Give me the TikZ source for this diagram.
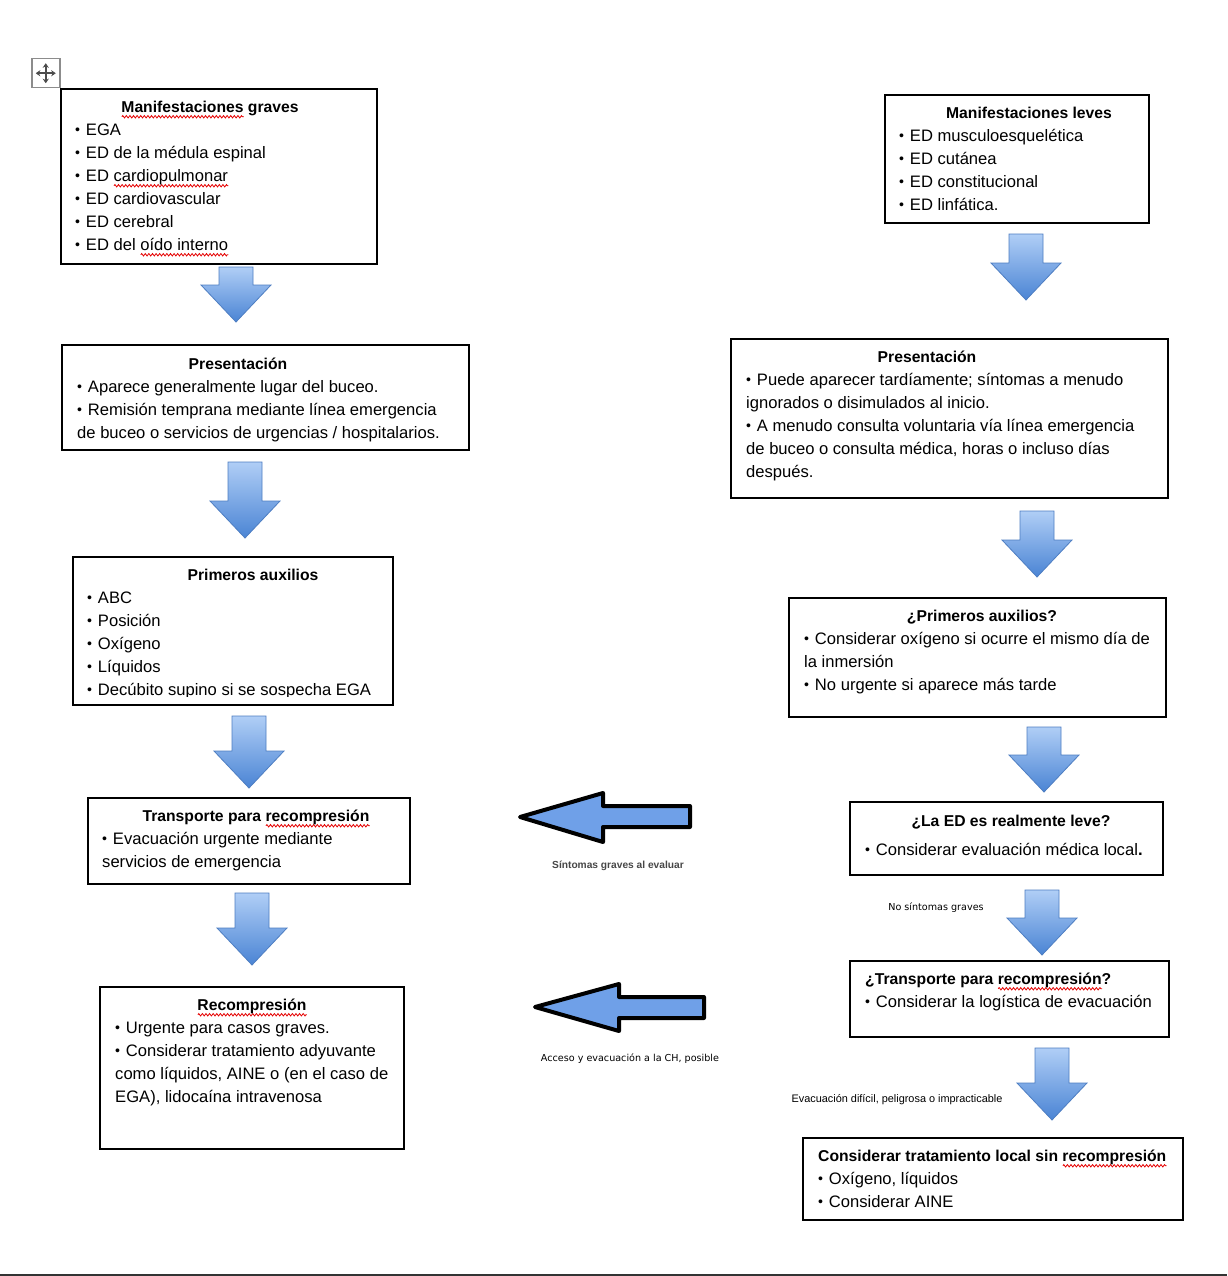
\documentclass[tikz,border=0pt]{standalone}
\usepackage{fontspec}
\setmainfont{Liberation Sans}
\newfontfamily\smallfont{DejaVu Sans}
\usepackage{graphicx}
\usetikzlibrary{arrows.meta,decorations.pathmorphing}
\newsavebox\sqbox
\newlength\sqlen
\newcommand\sqw[1]{\sbox\sqbox{#1}\setlength\sqlen{\wd\sqbox}\rlap{\tikz[baseline=0pt,x=1pt,y=1pt]{\draw[red!90!black, line width=0.8pt, decorate, decoration={zigzag, segment length=3.6pt, amplitude=1.2pt}] (0,-4) -- (\sqlen,-4);}}\usebox\sqbox}
\newcommand\bul{\raisebox{0.1ex}{\scalebox{0.85}{•}}\hspace{0.35em}}
\definecolor{arrtop}{HTML}{B0CEF6}
\definecolor{arrbot}{HTML}{4A84D4}
\definecolor{arredge}{HTML}{4E7EC2}
\definecolor{leftfill}{HTML}{6FA0E8}
\newcommand\blockdown[3]{%
  \path[shade, top color=arrtop, bottom color=arrbot, draw=arredge, line width=0.8pt, line join=miter]
  (#1-17,#2) -- (#1+17,#2) -- (#1+17,#3-37) -- (#1+35,#3-37) -- (#1,#3) -- (#1-35,#3-37) -- (#1-17,#3-37) -- cycle;}
\tikzset{
  box/.style={draw=black, line width=1.8pt, anchor=north west, inner sep=0pt},
  ttl/.style={inner sep=0pt, font=\fontsize{15.7}{19}\selectfont\bfseries, text height=11.5pt, text depth=0pt},
  ln/.style={anchor=west, inner sep=0pt, font=\fontsize{16.6}{19}\selectfont, text height=11.5pt, text depth=0pt},
  lbl/.style={inner sep=0pt, text height=7pt, text depth=0pt},
  leftarrow/.style={draw=black, line width=4pt, fill=leftfill, line join=round}
}
\begin{document}
\begin{tikzpicture}[x=1pt,y=-1pt]
\useasboundingbox (0,0) rectangle (1227,1276);
\fill[white] (0,0) rectangle (1227,1276);

% move handle icon
\node[draw=black!45, line width=1.5pt, minimum width=28pt, minimum height=29pt, inner sep=0pt, anchor=north west] (handle) at (31,58) {};
\draw[{Stealth[length=4.5pt,width=6pt]}-{Stealth[length=4.5pt,width=6pt]}, line width=1.6pt, black!70] (handle.center) ++(-10,0) -- ++(20,0);
\draw[{Stealth[length=4.5pt,width=6pt]}-{Stealth[length=4.5pt,width=6pt]}, line width=1.6pt, black!70] (handle.center) ++(0,-10) -- ++(0,20);

% ---------- left column ----------
\node[ttl] (l1t) at (210,107) {\sqw{Manifestaciones} graves};
\node[ln] (l1a) at (75,130) {\bul EGA};
\node[ln] (l1b) at (75,153) {\bul ED de la médula espinal};
\node[ln] (l1c) at (75,176) {\bul ED \sqw{cardiopulmonar}};
\node[ln] (l1d) at (75,199) {\bul ED cardiovascular};
\node[ln] (l1e) at (75,222) {\bul ED cerebral};
\node[ln] (l1f) at (75,245) {\bul ED del \sqw{oído interno}};
\node[box, minimum width=316pt, minimum height=175pt] (L1) at (60,88) {};

\blockdown{236}{267}{322}

\node[ttl] (l2t) at (238,364) {Presentación};
\node[ln] (l2a) at (77,387) {\bul Aparece generalmente lugar del buceo.};
\node[ln] (l2b) at (77,410) {\bul Remisión temprana mediante línea emergencia};
\node[ln] (l2c) at (77,433) {de buceo o servicios de urgencias / hospitalarios.};
\node[box, minimum width=407pt, minimum height=105pt] (L2) at (61,344) {};

\blockdown{245}{462}{538}

\node[ttl] (l3t) at (253,575) {Primeros auxilios};
\node[ln] (l3a) at (87,598) {\bul ABC};
\node[ln] (l3b) at (87,621) {\bul Posición};
\node[ln] (l3c) at (87,644) {\bul Oxígeno};
\node[ln] (l3d) at (87,667) {\bul Líquidos};
\node[ln] (l3e) at (87,690) {\bul Decúbito supino si se sospecha EGA};
\fill[white] (73,697) rectangle (391,704);
\node[box, minimum width=320pt, minimum height=148pt] (L3) at (72,556) {};

\blockdown{249}{716}{788}

\node[ttl] (l4t) at (256,816) {Transporte para \sqw{recompresión}};
\node[ln] (l4a) at (102,839) {\bul Evacuación urgente mediante};
\node[ln] (l4b) at (102,862) {servicios de emergencia};
\node[box, minimum width=322pt, minimum height=86pt] (L4) at (87,797) {};

\blockdown{252}{893}{965}

\node[ttl] (l5t) at (252,1005) {\sqw{Recompresión}};
\node[ln] (l5a) at (115,1028) {\bul Urgente para casos graves.};
\node[ln] (l5b) at (115,1051) {\bul Considerar tratamiento adyuvante};
\node[ln] (l5c) at (115,1074) {como líquidos, AINE o (en el caso de};
\node[ln] (l5d) at (115,1097) {EGA), lidocaína intravenosa};
\node[box, minimum width=304pt, minimum height=162pt] (L5) at (99,986) {};

% ---------- right column ----------
\node[ttl] (r1t) at (1029,113) {Manifestaciones leves};
\node[ln] (r1a) at (899,136) {\bul ED musculoesquelética};
\node[ln] (r1b) at (899,159) {\bul ED cutánea};
\node[ln] (r1c) at (899,182) {\bul ED constitucional};
\node[ln] (r1d) at (899,205) {\bul ED linfática.};
\node[box, minimum width=264pt, minimum height=128pt] (R1) at (884,94) {};

\blockdown{1026}{234}{300}

\node[ttl] (r2t) at (927,357) {Presentación};
\node[ln] (r2a) at (746,380) {\bul Puede aparecer tardíamente; síntomas a menudo};
\node[ln] (r2b) at (746,403) {ignorados o disimulados al inicio.};
\node[ln] (r2c) at (746,426) {\bul A menudo consulta voluntaria vía línea emergencia};
\node[ln] (r2d) at (746,449) {de buceo o consulta médica, horas o incluso días};
\node[ln] (r2e) at (746,472) {después.};
\node[box, minimum width=437pt, minimum height=159pt] (R2) at (730,338) {};

\blockdown{1037}{511}{577}

\node[ttl] (r3t) at (982,616) {¿Primeros auxilios?};
\node[ln] (r3a) at (804,639) {\bul Considerar oxígeno si ocurre el mismo día de};
\node[ln] (r3b) at (804,662) {la inmersión};
\node[ln] (r3c) at (804,685) {\bul No urgente si aparece más tarde};
\node[box, minimum width=377pt, minimum height=119pt] (R3) at (788,597) {};

\blockdown{1044}{727}{792}

\node[ttl] (r4t) at (1011,821) {¿La ED es realmente leve?};
\node[ln] (r4a) at (865,850) {\bul Considerar evaluación médica local\textbf{.}};
\node[box, minimum width=313pt, minimum height=73pt] (R4) at (849,801) {};

\node[lbl, font=\smallfont\fontsize{9.6}{11}\selectfont] (nosint) at (936,907) {No síntomas graves};
\blockdown{1042}{890}{955}

\node[ttl, anchor=west] (r5t) at (865,979) {¿Transporte para \sqw{recompresión}?};
\node[ln] (r5a) at (865,1002) {\bul Considerar la logística de evacuación};
\node[box, minimum width=319pt, minimum height=76pt] (R5) at (849,960) {};

\node[lbl, font=\fontsize{10.9}{12}\selectfont] (evac) at (897,1099) {Evacuación difícil, peligrosa o impracticable};
\blockdown{1052}{1048}{1120}

\node[ttl, anchor=west] (r6t) at (818,1156) {Considerar tratamiento local sin \sqw{recompresión}};
\node[ln] (r6a) at (818,1179) {\bul Oxígeno, líquidos};
\node[ln] (r6b) at (818,1202) {\bul Considerar AINE};
\node[box, minimum width=380pt, minimum height=82pt] (R6) at (802,1137) {};

% ---------- horizontal block arrows ----------
\path[leftarrow] (520,817) -- (603,793) -- (603,806) -- (690,806) -- (690,827) -- (603,827) -- (603,842) -- cycle;
\node[lbl, font=\fontsize{10.2}{12}\selectfont\bfseries, text=black!72] (sgrav) at (618,865) {Síntomas graves al evaluar};

\path[leftarrow] (535,1007) -- (619,984) -- (619,997) -- (704,997) -- (704,1018) -- (619,1018) -- (619,1031) -- cycle;
\node[lbl, font=\smallfont\fontsize{9.6}{11}\selectfont] (acceso) at (630,1058) {Acceso y evacuación a la CH, posible};

% bottom rule
\draw[line width=2pt, black!80] (0,1275) -- (1227,1275);
\end{tikzpicture}
\end{document}
